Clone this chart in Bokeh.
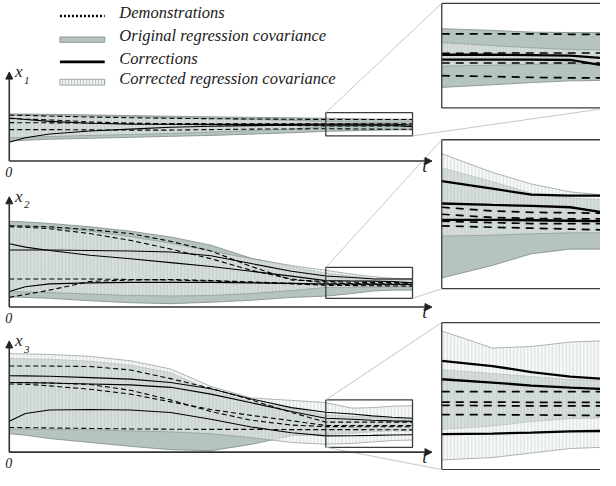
from bokeh.plotting import figure
from bokeh.models import Range1d, Arrow, NormalHead, Label, ColumnDataSource
from bokeh.embed import file_html
from bokeh.resources import INLINE

# ---------------- data ----------------
# time in % of the time axis; values in panel units
t = [0, 4, 10, 20, 30, 40, 50, 60, 70, 78.5, 85, 90, 95, 100]

# x1
x1_orig_upper = [48.7, 48.6, 48.3, 47.7, 47.0, 46.3, 45.7, 45.2, 44.7, 44.2, 43.8, 43.4, 43.3, 43.3]
x1_orig_lower = [21.0, 21.5, 22.5, 23.5, 24.5, 25.5, 26.5, 27.8, 29.2, 30.7, 31.3, 31.8, 32.2, 32.3]
x1_corr_upper = [47.5, 47.3, 47.0, 46.5, 45.8, 45.0, 44.0, 43.0, 42.0, 41.0, 40.3, 39.8, 39.4, 39.3]
x1_corr_lower = [24.0, 24.5, 25.3, 26.5, 27.5, 28.5, 30.0, 31.5, 33.2, 35.6, 35.8, 36.0, 36.1, 36.1]
x1_demo_a = [47.5, 47.2, 46.5, 45.5, 44.8, 44.2, 43.8, 43.5, 43.2, 43.0, 43.0, 43.0, 42.9, 42.9]
x1_demo_b = [44.0, 43.3, 42.5, 40.5, 39.0, 38.0, 37.5, 37.0, 36.8, 36.3, 36.3, 36.3, 36.3, 36.3]
x1_demo_c = [32.5, 32.5, 32.5, 32.2, 32.0, 32.0, 32.5, 33.0, 33.2, 33.4, 33.2, 33.0, 32.9, 32.9]
x1_demo_d = [39.7, 39.6, 39.5, 39.3, 39.0, 38.8, 38.6, 38.5, 38.5, 38.5, 38.6, 38.6, 38.6, 38.6]
x1_fix_a = [19.5, 24.0, 28.0, 31.0, 33.0, 35.0, 36.0, 36.6, 37.0, 37.1, 37.1, 37.1, 37.0, 35.5]
x1_fix_b = [44.5, 43.0, 41.0, 39.0, 38.2, 38.0, 37.9, 37.9, 37.9, 38.2, 38.2, 38.1, 38.0, 37.3]

# x2
x2_orig_upper = [88.7, 88.0, 86.5, 83.0, 78.5, 72.5, 64.0, 50.5, 42.0, 35.0, 32.0, 29.5, 28.5, 28.0]
x2_orig_lower = [10.5, 10.0, 9.0, 6.5, 4.5, 3.5, 5.0, 7.0, 10.0, 11.3, 14.0, 16.5, 17.5, 17.5]
x2_corr_upper = [84.0, 83.5, 82.0, 78.5, 73.0, 66.0, 58.0, 50.0, 43.0, 38.0, 34.0, 31.5, 29.8, 29.0]
x2_corr_lower = [16.0, 15.7, 15.0, 13.5, 12.0, 11.5, 12.0, 14.0, 17.0, 20.3, 20.5, 20.8, 21.0, 21.0]
x2_demo_a = [84.0, 83.8, 83.0, 80.0, 76.0, 68.0, 58.0, 42.0, 28.0, 26.5, 25.7, 25.4, 25.3, 25.2]
x2_demo_b = [83.0, 82.5, 81.0, 76.0, 69.0, 60.0, 50.0, 38.0, 29.0, 25.0, 24.3, 24.1, 24.0, 24.0]
x2_demo_c = [29.0, 29.0, 29.0, 29.0, 28.5, 28.0, 27.0, 25.5, 24.0, 22.5, 22.2, 22.0, 21.8, 21.6]
x2_demo_d = [10.0, 13.0, 17.5, 26.5, 28.0, 28.5, 27.5, 26.0, 24.5, 23.5, 23.2, 23.0, 23.0, 23.0]
x2_fix_a = [59.0, 59.0, 59.0, 58.5, 58.0, 57.0, 53.0, 45.0, 37.0, 32.1, 30.5, 29.2, 29.0, 29.0]
x2_fix_b = [65.5, 62.0, 58.5, 53.5, 50.0, 46.0, 42.0, 37.0, 32.0, 27.3, 27.0, 26.8, 26.5, 25.2]
x2_fix_c = [16.0, 21.0, 24.0, 25.0, 25.5, 25.5, 25.5, 25.0, 24.5, 23.8, 23.8, 23.7, 23.6, 23.5]

# x3
x3_orig_upper = [97.0, 96.5, 96.0, 94.0, 90.0, 82.0, 64.0, 52.0, 45.0, 38.3, 37.0, 36.0, 35.0, 34.5]
x3_orig_lower = [19.0, 17.5, 14.0, 10.0, 6.0, 2.5, 1.5, 8.0, 17.0, 18.4, 19.5, 21.0, 22.0, 22.2]
x3_corr_upper = [102.0, 101.5, 101.0, 99.0, 94.5, 86.0, 68.0, 56.0, 53.5, 51.2, 45.5, 46.0, 47.5, 48.0]
x3_corr_lower = [24.0, 23.8, 23.5, 23.0, 22.0, 21.0, 19.0, 15.0, 10.0, 8.2, 9.0, 10.5, 12.0, 12.5]
x3_demo_a = [89.0, 89.0, 89.0, 88.5, 85.0, 76.0, 66.0, 54.0, 41.0, 31.0, 31.0, 31.0, 31.0, 31.0]
x3_demo_b = [70.5, 70.2, 68.5, 65.0, 60.0, 52.0, 44.0, 38.0, 32.5, 27.5, 27.5, 27.4, 27.4, 27.4]
x3_demo_c = [72.0, 72.0, 71.5, 70.0, 64.0, 54.0, 42.0, 33.0, 28.0, 26.4, 26.3, 26.2, 26.2, 26.2]
x3_demo_d = [25.5, 25.3, 25.0, 24.5, 24.0, 23.7, 23.5, 23.5, 23.3, 23.3, 23.3, 23.2, 23.1, 23.0]
x3_fix_a = [79.0, 78.8, 78.5, 77.0, 75.5, 72.0, 65.5, 55.0, 46.0, 41.2, 39.5, 37.5, 36.0, 35.1]
x3_fix_b = [72.0, 71.8, 71.5, 70.5, 69.5, 67.0, 60.0, 51.0, 42.0, 35.1, 34.0, 33.0, 32.3, 31.8]
x3_fix_c = [32.0, 40.0, 43.5, 44.0, 43.5, 41.0, 34.0, 26.0, 20.0, 16.8, 17.0, 17.3, 17.7, 17.9]

# zoom windows (time, value) shown in the insets
zoom_t = (78.5, 100)
zoom_v = [(26, 50), (9, 41), (5, 54)]

legend_labels = ["Demonstrations", "Original regression covariance",
                 "Corrections", "Corrected regression covariance"]

series = [
    dict(ou=x1_orig_upper, ol=x1_orig_lower, cu=x1_corr_upper, cl=x1_corr_lower,
         demos=[x1_demo_a, x1_demo_b, x1_demo_c, x1_demo_d], fixes=[x1_fix_a, x1_fix_b]),
    dict(ou=x2_orig_upper, ol=x2_orig_lower, cu=x2_corr_upper, cl=x2_corr_lower,
         demos=[x2_demo_a, x2_demo_b, x2_demo_c, x2_demo_d], fixes=[x2_fix_a, x2_fix_b, x2_fix_c]),
    dict(ou=x3_orig_upper, ol=x3_orig_lower, cu=x3_corr_upper, cl=x3_corr_lower,
         demos=[x3_demo_a, x3_demo_b, x3_demo_c, x3_demo_d], fixes=[x3_fix_a, x3_fix_b, x3_fix_c]),
]

# ---------------- layout (canvas pixels of the picture) ----------------
W, H = 616, 486
T_TARGET = (9, 423)          # time axis span used by the data
AXIS_X0, AXIS_X1 = 9, 443
INSET_X = (453, 625)
PANELS = [
    dict(axis_y=166, top_y=74, inset=(3, 111), sub="1", links=[("TL", "TL"), ("BR", "BR")]),
    dict(axis_y=317, top_y=203, inset=(144, 298), sub="2", links=[("TL", "TL"), ("BR", "BL")]),
    dict(axis_y=467, top_y=352, inset=(333, 485), sub="3", links=[("TL", "TL"), ("BL", "BL")]),
]

ORIG_FILL = "#b5c3c1"
ORIG_EDGE = "#7f8a89"
CORR_FILL = "#f3f5f5"
CORR_HATCH = "#aab4b3"
CORR_EDGE = "#8d9796"
SERIF = "'Liberation Serif', 'Times New Roman', serif"

p = figure(width=600, height=470, x_range=Range1d(0, W), y_range=Range1d(0, H),
           output_backend="svg", toolbar_location=None, min_border=0,
           x_axis_type=None, y_axis_type=None)
p.grid.visible = False
p.outline_line_color = None
p.background_fill_color = "white"


def draw(g, src, zoomed):
    lw_fix = 2.3 if zoomed else 1.1
    lw_demo = 1.7 if zoomed else 1.1
    dash = "8 6" if zoomed else "5 3"
    g.varea(x="t", y1="ol", y2="ou", source=src, fill_color=ORIG_FILL)
    g.line("t", "ou", source=src, line_color=ORIG_EDGE, line_width=0.8)
    g.line("t", "ol", source=src, line_color=ORIG_EDGE, line_width=0.8)
    g.varea(x="t", y1="cl", y2="cu", source=src, fill_color=CORR_FILL, fill_alpha=0.55,
            hatch_pattern="|", hatch_color=CORR_HATCH, hatch_scale=3.5, hatch_weight=0.6,
            hatch_alpha=0.75)
    g.line("t", "cu", source=src, line_color=CORR_EDGE, line_width=0.7)
    g.line("t", "cl", source=src, line_color=CORR_EDGE, line_width=0.7)
    for k in src.data:
        if k.startswith("d"):
            g.line("t", k, source=src, line_color="black", line_width=lw_demo, line_dash=dash)
    for k in src.data:
        if k.startswith("f"):
            g.line("t", k, source=src, line_color="black", line_width=lw_fix)


def to_canvas(tt, vv, axis_y):
    x = T_TARGET[0] + (tt / 100.0) * (T_TARGET[1] - T_TARGET[0])
    return x, H - axis_y + vv


i0 = t.index(zoom_t[0])
for idx, (sr, pn) in enumerate(zip(series, PANELS)):
    data = dict(t=t, ou=sr["ou"], ol=sr["ol"], cu=sr["cu"], cl=sr["cl"])
    for j, d in enumerate(sr["demos"]):
        data["d%d" % j] = d
    for j, f in enumerate(sr["fixes"]):
        data["f%d" % j] = f
    src = ColumnDataSource(data)
    zsrc = ColumnDataSource({k: list(v[i0:]) for k, v in data.items()})

    ay = pn["axis_y"]
    g = p.subplot(x_source=Range1d(0, 100), y_source=Range1d(0, 100),
                  x_target=Range1d(*T_TARGET), y_target=Range1d(H - ay, H - ay + 100))
    draw(g, src, False)
    vlo, vhi = zoom_v[idx]
    g.quad(left=[zoom_t[0]], right=[zoom_t[1]], bottom=[vlo], top=[vhi],
           fill_color=None, line_color="#3c3c3c", line_width=1.3)

    it, ib = pn["inset"]
    gi = p.subplot(x_source=Range1d(*zoom_t), y_source=Range1d(vlo, vhi),
                   x_target=Range1d(*INSET_X), y_target=Range1d(H - ib, H - it))
    draw(gi, zsrc, True)
    p.quad(left=[INSET_X[0]], right=[INSET_X[1]], bottom=[H - ib], top=[H - it],
           fill_color=None, line_color="#3c3c3c", line_width=1.3)

    # connectors
    rx0, ry0 = to_canvas(zoom_t[0], vlo, ay)
    rx1, ry1 = to_canvas(zoom_t[1], vhi, ay)
    rc = dict(TL=(rx0, ry1), BL=(rx0, ry0), BR=(rx1, ry0), TR=(rx1, ry1))
    ic = dict(TL=(INSET_X[0], H - it), BL=(INSET_X[0], H - ib),
              BR=(INSET_X[1], H - ib), TR=(INSET_X[1], H - it))
    for a, b in pn["links"]:
        p.line([rc[a][0], ic[b][0]], [rc[a][1], ic[b][1]], line_color="#c8c8c8", line_width=1)

    # axes
    for xs, ys, xe, ye in [(AXIS_X0, H - ay, AXIS_X0, H - pn["top_y"]),
                           (AXIS_X0, H - ay, AXIS_X1, H - ay)]:
        p.add_layout(Arrow(end=NormalHead(size=7, fill_color="#222222", line_color="#222222"),
                           x_start=xs, y_start=ys, x_end=xe, y_end=ye,
                           line_color="#333333", line_width=1.6))
    p.add_layout(Label(x=15, y=H - (pn["top_y"] + 9), text="x", text_font=SERIF,
                       text_font_style="italic", text_font_size="17px", text_color="#222222"))
    p.add_layout(Label(x=24, y=H - (pn["top_y"] + 12), text=pn["sub"], text_font=SERIF,
                       text_font_style="italic", text_font_size="11px", text_color="#222222"))
    p.add_layout(Label(x=5, y=H - (ay + 16), text="0", text_font=SERIF,
                       text_font_style="italic", text_font_size="14px", text_color="#222222"))
    p.add_layout(Label(x=433, y=H - (ay + 15), text="t", text_font=SERIF,
                       text_font_style="italic", text_font_size="18px", text_color="#222222"))

# ---------------- legend ----------------
LX0, LX1, LTX = 61, 107, 122
rows = [16, 40.5, 63.5, 84.5]
baselines = [22.7, 46, 70, 90]
p.line([LX0, LX1], [H - rows[0]] * 2, line_color="black", line_width=2.4, line_dash="2 2")
p.quad(left=[LX0], right=[LX1], bottom=[H - rows[1] - 2.8], top=[H - rows[1] + 2.8],
       fill_color=ORIG_FILL, line_color=ORIG_EDGE, line_width=0.8)
p.line([LX0, LX1], [H - rows[2]] * 2, line_color="black", line_width=2.6)
p.quad(left=[LX0], right=[LX1], bottom=[H - rows[3] - 3], top=[H - rows[3] + 3],
       fill_color="#eceff0", line_color=CORR_EDGE, line_width=0.8,
       hatch_pattern="|", hatch_color=CORR_HATCH, hatch_scale=3, hatch_weight=0.6)
for lab, b in zip(legend_labels, baselines):
    p.add_layout(Label(x=LTX, y=H - b, text=lab, text_font=SERIF, text_font_style="italic",
                       text_font_size="16.5px", text_color="#1a1a1a"))

open("out.html", "w").write(file_html(p, INLINE))
